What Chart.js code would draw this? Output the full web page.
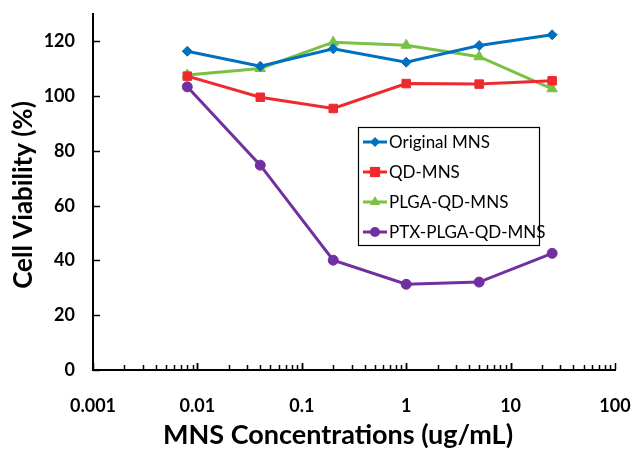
<!DOCTYPE html>
<html>
<head>
<meta charset="utf-8">
<script src="https://cdn.jsdelivr.net/npm/chart.js@4/dist/chart.umd.min.js"></script>
<style>
  body { margin: 0; background: #fff; }
  #wrap { width: 631px; height: 449px; position: relative; }
</style>
</head>
<body>
<div id="wrap"><canvas id="chart"></canvas></div>
<script>
// concentrations (ug/mL)
var concentrations = [0.008, 0.04, 0.2, 1, 5, 25];
var originalMNS = [116.4, 110.9, 117.3, 112.4, 118.5, 122.4];
var qdMNS = [107.3, 99.6, 95.5, 104.6, 104.4, 105.6];
var plgaQdMNS = [107.7, 110.1, 119.7, 118.6, 114.4, 102.7];
var ptxPlgaQdMNS = [103.4, 74.8, 40.1, 31.3, 32.1, 42.6];
var seriesNames = ['Original MNS', 'QD-MNS', 'PLGA-QD-MNS', 'PTX-PLGA-QD-MNS'];
var xTicks = [0.001, 0.01, 0.1, 1, 10, 100];
var yTicks = [0, 20, 40, 60, 80, 100, 120];

function pts(vals) {
    return vals.map(function (v, i) { return { x: concentrations[i], y: v }; });
}

function series(label, vals, color, style, radius) {
    return {
        label: label,
        data: pts(vals),
        borderColor: color,
        backgroundColor: color,
        borderWidth: 3,
        pointStyle: style,
        pointRadius: radius,
        pointHoverRadius: radius,
        pointBorderWidth: 1
    };
}

var datasets = [
    series(seriesNames[0], originalMNS, '#0070C0', 'rectRot', 5),
    series(seriesNames[1], qdMNS, '#EE2A2E', 'rect', 6),
    series(seriesNames[2], plgaQdMNS, '#7AC143', 'triangle', 6),
    series(seriesNames[3], ptxPlgaQdMNS, '#7030A0', 'circle', 5)
];

function marker(ctx, style, r, x, y) {
    ctx.beginPath();
    if (style == 'rectRot') {
        ctx.moveTo(x, y - r); ctx.lineTo(x + r, y); ctx.lineTo(x, y + r); ctx.lineTo(x - r, y);
    } else if (style == 'rect') {
        var s = r * 0.85;
        ctx.rect(x - s, y - s, 2 * s, 2 * s);
    } else if (style == 'triangle') {
        ctx.moveTo(x, y - r); ctx.lineTo(x + r * 0.87, y + r * 0.5); ctx.lineTo(x - r * 0.87, y + r * 0.5);
    } else {
        ctx.arc(x, y, r, 0, Math.PI * 2);
    }
    ctx.closePath();
    ctx.fill();
}

// inside tick marks, axis titles and the boxed legend
var decorations = {
    id: 'decorations',
    afterDraw: function (chart) {
        var ctx = chart.ctx;
        var xs = chart.scales.x, ys = chart.scales.y;
        var a = chart.chartArea;
        ctx.save();
        ctx.strokeStyle = '#000';
        ctx.lineWidth = 1.5;
        // y ticks pointing in
        yTicks.forEach(function (v) {
            var py = Math.round(ys.getPixelForValue(v)) + 0.5;
            ctx.beginPath();
            ctx.moveTo(a.left, py);
            ctx.lineTo(a.left + 7, py);
            ctx.stroke();
        });
        // x log ticks pointing in
        for (var e = -3; e < 2; e++) {
            var d = Math.pow(10, e);
            for (var k = 1; k <= 10; k++) {
                var px = Math.round(xs.getPixelForValue(d * k)) + 0.5;
                var len = (k == 1 || k == 10) ? 7 : 5;
                ctx.beginPath();
                ctx.moveTo(px, a.bottom);
                ctx.lineTo(px, a.bottom - len);
                ctx.stroke();
            }
        }
        // axis titles
        ctx.fillStyle = '#000';
        ctx.font = 'bold 27px Lato';
        ctx.textAlign = 'center';
        ctx.textBaseline = 'middle';
        ctx.fillText('MNS Concentrations (ug/mL)', 338, 435);
        ctx.font = 'bold 26px Lato';
        ctx.save();
        ctx.translate(24, 195);
        ctx.rotate(-Math.PI / 2);
        ctx.fillText('Cell Viability (%)', 0, 0);
        ctx.restore();

        // legend
        var lx = 358, ly = 127, lw = 181, lh = 118;
        ctx.strokeStyle = '#000';
        ctx.lineWidth = 1.2;
        ctx.strokeRect(lx + 0.5, ly + 0.5, lw, lh);
        ctx.font = '17px Lato';
        ctx.textAlign = 'left';
        chart.data.datasets.forEach(function (ds, i) {
            var cy = 142 + i * 30;
            ctx.strokeStyle = ds.borderColor;
            ctx.lineWidth = 3;
            ctx.beginPath();
            ctx.moveTo(363, cy);
            ctx.lineTo(387, cy);
            ctx.stroke();
            ctx.fillStyle = ds.backgroundColor;
            marker(ctx, ds.pointStyle, ds.pointRadius, 375, cy);
            ctx.fillStyle = '#000';
            ctx.fillText(ds.label, 389, cy + 1);
        });
        ctx.restore();
    }
};

new Chart(document.getElementById('chart'), {
    type: 'line',
    data: { datasets: datasets },
    plugins: [decorations],
    options: {
        responsive: true,
        maintainAspectRatio: false,
        animation: false,
        layout: { padding: { left: 0, right: 16, top: 14, bottom: 0 } },
        plugins: { legend: { display: false }, tooltip: { enabled: false } },
        scales: {
            x: {
                type: 'logarithmic',
                min: 0.001,
                max: 100,
                afterBuildTicks: function (scale) {
                    scale.ticks = xTicks.map(function (v) { return { value: v }; });
                },
                afterFit: function (scale) {
                    scale.height = 79;
                    scale.paddingLeft = 0;
                    scale.paddingRight = 0;
                },
                ticks: {
                    color: '#000',
                    font: { family: 'Lato', size: 18, weight: 'bold' },
                    padding: 25,
                    maxRotation: 0,
                    autoSkip: false,
                    callback: function (v) { return String(v); }
                },
                grid: { display: true, drawOnChartArea: false, drawTicks: false },
                border: { display: true, color: '#000', width: 2 }
            },
            y: {
                min: 0,
                max: 130,
                afterBuildTicks: function (scale) {
                    scale.ticks = yTicks.map(function (v) { return { value: v }; });
                },
                afterFit: function (scale) {
                    scale.width = 93;
                    scale.paddingTop = 0;
                    scale.paddingBottom = 0;
                },
                ticks: {
                    color: '#000',
                    font: { family: 'Lato', size: 18, weight: 'bold' },
                    padding: 18
                },
                grid: { display: true, drawOnChartArea: false, drawTicks: false },
                border: { display: true, color: '#000', width: 2 }
            }
        }
    }
});
</script>
</body>
</html>
